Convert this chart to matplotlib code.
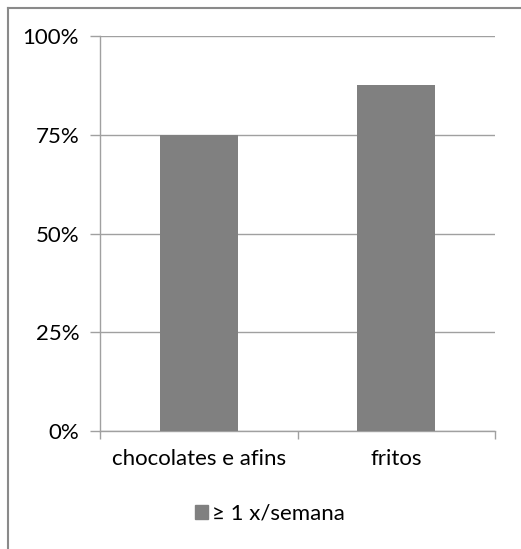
import matplotlib
matplotlib.use("Agg")
import matplotlib.pyplot as plt
from matplotlib.lines import Line2D
from matplotlib.patches import Patch

categories = ["chocolates e afins", "fritos"]
values = [75.0, 87.5]
yticks = [0, 25, 50, 75, 100]
ytick_labels = ["0%", "25%", "50%", "75%", "100%"]
series_name = "\u2265 1 x/semana"

W, H = 521, 549
fig = plt.figure(figsize=(W / 100, H / 100), dpi=100)
plt.rcParams["font.family"] = ["Lato", "DejaVu Sans"]
fs = 16
text_color = "#000000"

# plot area in pixel coordinates
left, right, top, bottom = 100, 495, 36, 431
ax = fig.add_axes([left / W, 1 - bottom / H, (right - left) / W, (bottom - top) / H])

bar_color = "#808080"
grid_color = "#a0a0a0"
ax.bar(range(len(categories)), values, width=0.395, color=bar_color, zorder=3)

ax.set_xlim(-0.5, len(categories) - 0.5)
ax.set_ylim(0, 100)
ax.set_yticks(yticks)
ax.set_yticklabels(ytick_labels, fontsize=fs, color=text_color)
ax.yaxis.grid(True, color=grid_color, linewidth=1)
ax.set_axisbelow(True)

# category boundaries carry the x tick marks
ax.set_xticks([-0.5 + i for i in range(len(categories) + 1)])
ax.set_xticklabels([])
ax.set_xticks(range(len(categories)), minor=True)
ax.set_xticklabels(categories, minor=True, fontsize=fs, color=text_color)
ax.tick_params(axis="x", which="minor", length=0, pad=13)
ax.tick_params(axis="x", which="major", length=6, color=grid_color, width=1)
ax.tick_params(axis="y", length=7, color=grid_color, width=1, pad=8)

for s in ["top", "right"]:
    ax.spines[s].set_visible(False)
for s in ["left", "bottom"]:
    ax.spines[s].set_color(grid_color)
    ax.spines[s].set_linewidth(1)

leg = fig.legend(handles=[Patch(color=bar_color, label=series_name)],
                 loc="center", bbox_to_anchor=(270 / W, 1 - 514 / H),
                 frameon=False, fontsize=fs, handlelength=0.6, handleheight=0.6,
                 handletextpad=0.2)
for t in leg.get_texts():
    t.set_color(text_color)

# outer chart frame
frame_color = "#8a8a8a"
fig.add_artist(Line2D([8 / W, 8 / W], [0, 1 - 8 / H], color=frame_color, linewidth=1.5,
                      transform=fig.transFigure))
fig.add_artist(Line2D([8 / W, 1], [1 - 8 / H, 1 - 8 / H], color=frame_color, linewidth=1.5,
                      transform=fig.transFigure))

fig.savefig("out.png", dpi=100)
